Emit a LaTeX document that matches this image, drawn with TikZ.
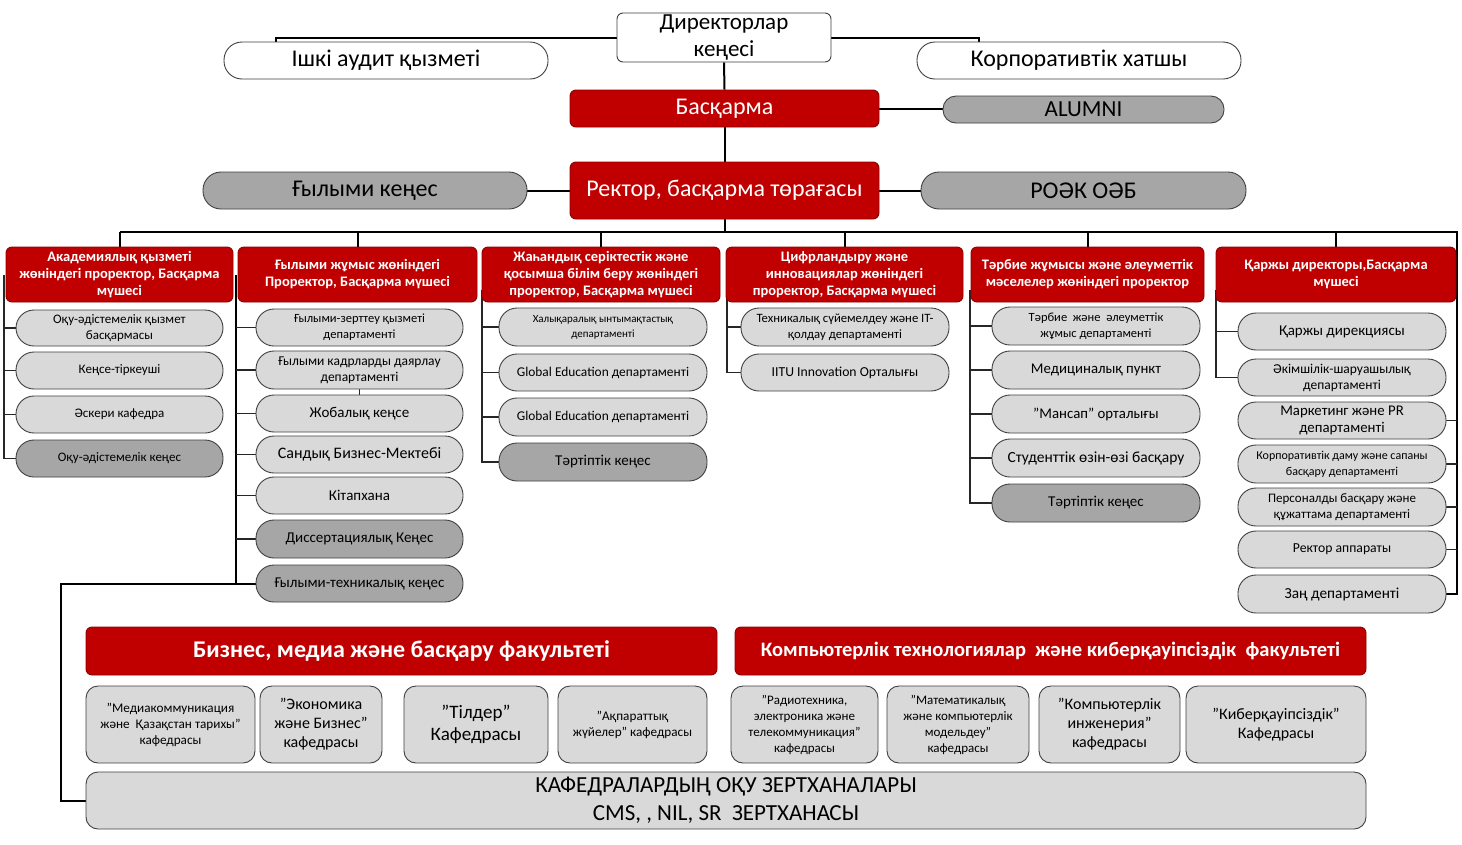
\documentclass[tikz,border=0pt]{standalone}
\usepackage{fontspec}
\setmainfont{Carlito}
\usetikzlibrary{backgrounds}
\definecolor{rd}{HTML}{C00000}
\definecolor{rdb}{HTML}{8E0000}
\definecolor{lg}{HTML}{D9D9D9}
\definecolor{dg}{HTML}{A6A6A6}
\definecolor{bd}{HTML}{404040}
\newcommand\fs[2]{\fontsize{#1}{#2}\selectfont}
\newcommand\bx[8]{\node[#2,font=#8,minimum width={#5-#3},minimum height={#6-#4}] (#1) at ({(#3+#5)/2},{(#4+#6)/2}) {#7};}
\tikzset{
  base/.style={inner sep=0pt,align=center,line width=0.9pt},
  wbox/.style={base,draw=bd,fill=white,rounded corners=6pt},
  wpill/.style={base,draw=bd,fill=white,rounded corners=18pt},
  redbox/.style={base,draw=rdb,fill=rd,text=white,rounded corners=6pt},
  gpill/.style={base,draw=bd,fill=dg,rounded corners=18pt},
  lpill/.style={base,draw=bd,fill=lg,rounded corners=18pt},
  dpill/.style={base,draw=bd,fill=dg,rounded corners=18pt},
  dept/.style={base,draw=bd,fill=lg,rounded corners=12pt},
  conn/.style={draw=black,line width=2pt},
  thin/.style={draw=black!85,line width=1.5pt}
}
\begin{document}
\begin{tikzpicture}[x=1pt,y=-1pt]
\useasboundingbox (0,0) rectangle (1462,844);
% top
\bx{dir}{wbox}{617}{13}{831}{62}{Директорлар\\кеңесі}{\fs{23}{27}}
\bx{audit}{wpill}{224}{42}{548}{79}{Ішкі аудит қызметі}{\fs{24}{26}}
\bx{corp}{wpill}{917}{42}{1241}{79}{Корпоративтік хатшы}{\fs{24}{26}}
\bx{bask}{redbox}{570}{90}{879}{127}{Басқарма}{\fs{24}{26}}
\bx{alumni}{gpill,rounded corners=13pt}{943}{96}{1224}{123}{ALUMNI}{\fs{23}{25}}
\bx{rect}{redbox}{570}{162}{879}{219}{Ректор, басқарма төрағасы}{\fs{24}{26}}
\bx{gk}{gpill}{203}{172}{527}{209}{Ғылыми кеңес}{\fs{24}{26}}
\bx{roek}{gpill}{921}{172}{1246}{209}{РОӘК ОӘБ}{\fs{24}{26}}
% headers
\bx{h1}{redbox}{6}{247}{233}{302}{Академиялық қызметі\\жөніндегі проректор, Басқарма\\мүшесі}{\bfseries\fs{14.5}{17}}
\bx{h2}{redbox}{238}{247}{477}{302}{Ғылыми жұмыс жөніндегі\\Проректор, Басқарма мүшесі}{\bfseries\fs{14.5}{17}}
\bx{h3}{redbox}{482}{247}{720}{302}{Жаһандық серіктестік және\\қосымша білім беру жөніндегі\\проректор, Басқарма мүшесі}{\bfseries\fs{14.5}{17}}
\bx{h4}{redbox}{726}{247}{963}{302}{Цифрландыру және\\инновациялар жөніндегі\\проректор, Басқарма мүшесі}{\bfseries\fs{14.5}{17}}
\bx{h5}{redbox}{971}{247}{1204}{302}{Тәрбие жұмысы және әлеуметтік\\мәселелер жөніндегі проректор}{\bfseries\fs{14.5}{17}}
\bx{h6}{redbox}{1216}{247}{1456}{302}{Қаржы директоры,Басқарма\\мүшесі}{\bfseries\fs{14.5}{17}}
% col1
\bx{a1}{lpill}{16}{310}{223}{346}{Оқу-әдістемелік қызмет\\басқармасы}{\fs{13}{16}}
\bx{a2}{lpill}{16}{352}{223}{389}{Кеңсе-тіркеуші}{\fs{13}{16}}
\bx{a3}{lpill}{16}{396}{223}{433}{Әскери кафедра}{\fs{13}{16}}
\bx{a4}{dpill}{16}{440}{223}{477}{Оқу-әдістемелік кеңес}{\fs{13}{16}}
% col2
\bx{b1}{lpill}{256}{309}{463}{346}{Ғылыми-зерттеу қызметі\\департаменті}{\fs{12.5}{16}}
\bx{b2}{lpill}{256}{351}{463}{389}{Ғылыми кадрларды даярлау\\департаменті}{\fs{13.5}{16}}
\bx{b3}{lpill}{256}{395}{463}{432}{Жобалық кеңсе}{\fs{15}{18}}
\bx{b4}{lpill}{256}{436}{463}{473}{Сандық Бизнес-Мектебі}{\fs{16}{19}}
\bx{b5}{lpill}{256}{477}{463}{514}{Кітапхана}{\fs{15}{18}}
\bx{b6}{dpill}{256}{520}{463}{558}{Диссертациялық Кеңес}{\fs{15}{18}}
\bx{b7}{dpill}{256}{565}{463}{602}{Ғылыми-техникалық кеңес}{\fs{15}{18}}
% col3
\bx{c1}{lpill}{499}{308}{707}{346}{Халықаралық ынтымақтастық\\департаменті}{\fs{11}{15}}
\bx{c2}{lpill}{499}{354}{707}{391}{Global Education департаменті}{\fs{13.4}{16}}
\bx{c3}{lpill}{499}{398}{707}{436}{Global Education департаменті}{\fs{13.4}{16}}
\bx{c4}{dpill}{499}{443}{707}{481}{Тәртіптік кеңес}{\fs{15}{18}}
% col4
\bx{d1}{lpill}{741}{308}{949}{346}{Техникалық сүйемелдеу және IT-\\қолдау департаменті}{\fs{12.7}{16}}
\bx{d2}{lpill}{741}{354}{949}{391}{IITU Innovation Орталығы}{\fs{13.7}{16}}
% col5
\bx{e1}{lpill}{992}{307}{1200}{345}{Тәрбие\ \ және\ \ әлеуметтік\\жұмыс департаменті}{\fs{12.5}{16}}
\bx{e2}{lpill}{992}{351}{1200}{389}{Медициналық пункт}{\fs{14.8}{18}}
\bx{e3}{lpill}{992}{395}{1200}{433}{"Мансап" орталығы}{\fs{14.8}{18}}
\bx{e4}{lpill}{992}{439}{1200}{477}{Студенттік өзін-өзі басқару}{\fs{15.5}{18}}
\bx{e5}{dpill}{992}{484}{1200}{522}{Тәртіптік кеңес}{\fs{15}{18}}
% col6
\bx{f1}{lpill}{1238}{313}{1446}{350}{Қаржы дирекциясы}{\fs{15}{18}}
\bx{f2}{lpill}{1238}{359}{1446}{396}{Әкімшілік-шаруашылық\\департаменті}{\fs{13.5}{16}}
\bx{f3}{lpill}{1238}{402}{1446}{439}{Маркетинг және PR\\департаменті}{\fs{14.8}{17}}
\bx{f4}{lpill}{1238}{445}{1446}{483}{Корпоративтік даму және сапаны\\басқару департаменті}{\fs{12}{16}}
\bx{f5}{lpill}{1238}{488}{1446}{526}{Персоналды басқару және\\құжаттама департаменті}{\fs{13}{16}}
\bx{f6}{lpill}{1238}{531}{1446}{568}{Ректор аппараты}{\fs{13.7}{16}}
\bx{f7}{lpill}{1238}{575}{1446}{613}{Заң департаменті}{\fs{15.3}{18}}
% faculties
\bx{fac1}{redbox}{86}{627}{717}{675}{Бизнес, медиа және басқару факультеті}{\bfseries\fs{24}{26}}
\bx{fac2}{redbox}{735}{627}{1366}{675}{Компьютерлік технологиялар\ \ және киберқауіпсіздік\ \ факультеті}{\bfseries\fs{20.5}{24}}
\bx{k1}{dept}{86}{686}{255}{763}{"Медиакоммуникация\\және\ \ Қазақстан тарихы"\\кафедрасы}{\fs{13.2}{16}}
\bx{k2}{dept}{260}{686}{382}{763}{"Экономика\\және Бизнес"\\кафедрасы}{\fs{16}{19}}
\bx{k3}{dept}{404}{686}{548}{763}{"Тілдер"\\Кафедрасы}{\fs{19}{22}}
\bx{k4}{dept}{558}{686}{707}{763}{"Ақпараттық\\жүйелер" кафедрасы}{\fs{13.2}{16}}
\bx{k5}{dept}{731}{686}{878}{763}{"Радиотехника,\\электроника және\\телекоммуникация"\\кафедрасы}{\fs{13}{16}}
\bx{k6}{dept}{887}{686}{1029}{763}{"Математикалық\\және компьютерлік\\модельдеу"\\кафедрасы}{\fs{13}{16}}
\bx{k7}{dept}{1039}{686}{1180}{763}{"Компьютерлік\\инженерия"\\кафедрасы}{\fs{16}{19}}
\bx{k8}{dept}{1186}{686}{1366}{763}{"Киберқауіпсіздік"\\Кафедрасы}{\fs{16}{19}}
\bx{lab}{dept}{86}{772}{1366}{829}{КАФЕДРАЛАРДЫҢ ОҚУ ЗЕРТХАНАЛАРЫ\\CMS, , NIL, SR\ \ ЗЕРТХАНАСЫ}{\fs{23}{28}}
% connectors
\begin{pgfonlayer}{background}
\fill[white] (0,0) rectangle (1462,844);
\draw[conn] (dir.west) -| ([xshift=-110pt]audit.north);
\draw[conn] (dir.east) -| ([xshift=-100pt]corp.north);
\draw[conn] (dir.south) -- (bask.north);
\draw[conn] (bask.south) -- (rect.north);
\draw[conn] (bask.east) -- (bask.east -| alumni.west);
\draw[conn] (rect.west) -- (gk.east);
\draw[conn] (rect.east) -- (roek.west);
\coordinate (busL) at (120,232);
\coordinate (busR) at (1457,232);
\draw[conn] (rect.south) -- (rect.south |- busL);
\draw[conn] (busL) -- (busR) -- (busR |- f7.east) -- (f7.east);
\foreach \i in {1,...,6} \draw[conn] (h\i.north) -- (h\i.north |- busL);
\coordinate (v1) at (4,275);
\draw[thin] (v1) |- (a4.west);
\foreach \i in {1,2,3} \draw[thin] (a\i.west) -- (a\i.west -| v1);
\coordinate (v2) at (236,275);
\draw[conn] (v2) |- (b7.west);
\foreach \i in {1,...,6} \draw[thin] (b\i.west) -- (b\i.west -| v2);
\draw[thin] (b2.south) -- (b3.north);
\coordinate (lk) at (61,583.5);
\draw[conn] (b7.west) -- (lk) |- (lab.west);
\coordinate (v3) at (482,290);
\draw[thin] (v3) |- (c4.west);
\foreach \i in {1,2,3} \draw[thin] (c\i.west) -- (c\i.west -| v3);
\coordinate (v4) at (727,290);
\draw[thin] (v4) |- (d2.west);
\draw[thin] (d1.west) -- (d1.west -| v4);
\coordinate (v5) at (970,290);
\draw[thin] (v5) |- (e5.west);
\foreach \i in {1,...,4} \draw[thin] (e\i.west) -- (e\i.west -| v5);
\coordinate (v6) at (1216,290);
\draw[thin] (v6) |- (f2.west);
\draw[thin] (f1.west) -- (f1.west -| v6);
\foreach \i in {3,...,6} \draw[thin] (f\i.east) -- (f\i.east -| busR);
\end{pgfonlayer}
\end{tikzpicture}
\end{document}
